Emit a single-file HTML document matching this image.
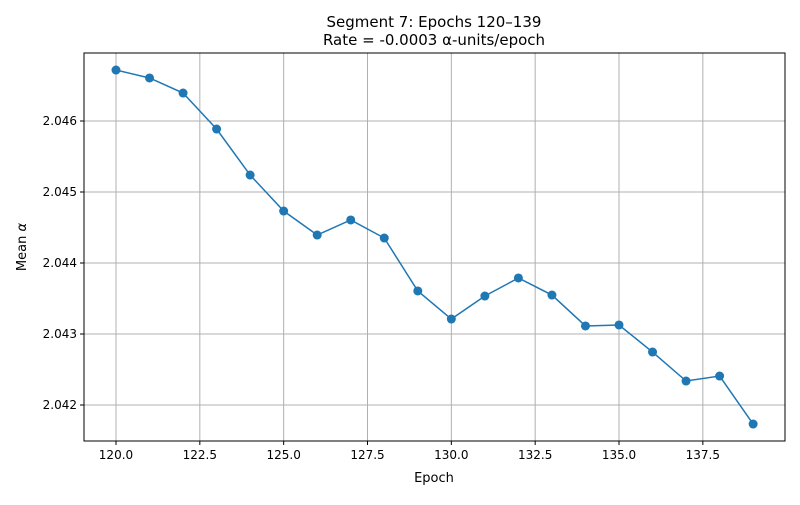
<!DOCTYPE html>
<html><head><meta charset="utf-8"><style>
body{margin:0;background:#fff;font-family:"Liberation Sans","DejaVu Sans",sans-serif;}
svg text{font-family:"DejaVu Sans","Liberation Sans",sans-serif;}
</style></head><body>
<svg id="chart" width="800" height="500">
<rect width="800" height="500" fill="#fff"/>
<g id="grid"></g><g id="axes"></g><g id="series"></g>
<text x="434" y="27" text-anchor="middle" font-size="15">Segment 7: Epochs 120–139</text>
<text x="434" y="45" text-anchor="middle" font-size="15">Rate = -0.0003 α-units/epoch</text>
<text x="434" y="482" text-anchor="middle" font-size="13">Epoch</text>
<text transform="translate(26,247) rotate(-90)" text-anchor="middle" font-size="13">Mean <tspan font-style="italic">α</tspan></text>
</svg>
<script>
const epochs=[120,121,122,123,124,125,126,127,128,129,130,131,132,133,134,135,136,137,138,139];
const meanAlpha=[2.046718,2.046606,2.046394,2.045887,2.045239,2.044732,2.044394,2.044606,2.044352,2.043606,2.043211,2.043535,2.043789,2.043549,2.043113,2.043127,2.042746,2.042338,2.042408,2.041732];
const xTicks=[120,122.5,125,127.5,130,132.5,135,137.5];
const xTickLabels=["120.0","122.5","125.0","127.5","130.0","132.5","135.0","137.5"];
const yTicks=[2.042,2.043,2.044,2.045,2.046];
const yTickLabels=["2.042","2.043","2.044","2.045","2.046"];
const L=84,R=785,T=53,B=441;
const xMin=119.046,xMax=139.95,yMin=2.041493,yMax=2.046958;
const sx=v=>L+(v-xMin)/(xMax-xMin)*(R-L);
const sy=v=>B-(v-yMin)/(yMax-yMin)*(B-T);
const NS="http://www.w3.org/2000/svg";
function mk(t,a,p){const e=document.createElementNS(NS,t);for(const k in a)e.setAttribute(k,a[k]);p.appendChild(e);return e;}
const grid=document.getElementById('grid'),axes=document.getElementById('axes'),series=document.getElementById('series');
xTicks.forEach((v,i)=>{const x=sx(v);
const g=mk('line',{x1:x,x2:x,y1:T,y2:B,stroke:'#b0b0b0','stroke-width':1},grid);


mk('line',{x1:x,x2:x,y1:B,y2:B+4,stroke:'#000'},axes);
const t=mk('text',{x:x,y:B+18,'text-anchor':'middle','font-size':12},axes);t.textContent=xTickLabels[i];

});
yTicks.forEach((v,i)=>{const y=sy(v);
const g=mk('line',{x1:L,x2:R,y1:y,y2:y,stroke:'#b0b0b0','stroke-width':1},grid);


mk('line',{x1:L-4,x2:L,y1:y,y2:y,stroke:'#000'},axes);
const t=mk('text',{x:L-7,y:y+4,'text-anchor':'end','font-size':12},axes);t.textContent=yTickLabels[i];

});
const frame=mk('rect',{x:L,y:T,width:R-L,height:B-T,fill:'none',stroke:'#000','stroke-width':1},axes);


const pts=epochs.map((e,i)=>sx(e)+','+sy(meanAlpha[i])).join(' ');
const line=mk('polyline',{points:pts,fill:'none',stroke:'#1f77b4','stroke-width':1.5},series);


epochs.forEach((e,i)=>{const c=mk('circle',{cx:sx(e),cy:sy(meanAlpha[i]),r:4.5,fill:'#1f77b4'},series);

});
</script>
</body></html>
